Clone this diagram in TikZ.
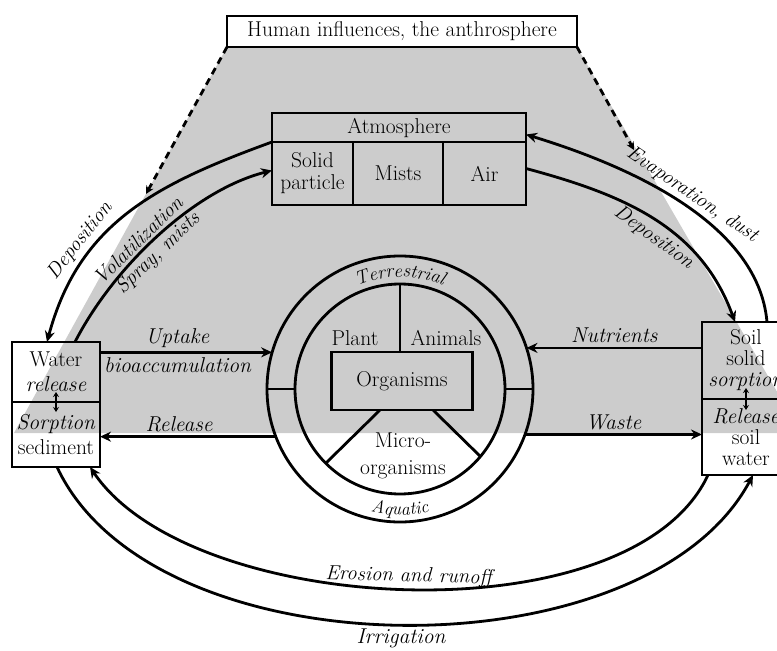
\documentclass[tikz,border=0pt]{standalone}
\usetikzlibrary{positioning}
\usetikzlibrary{arrows.meta}
\usetikzlibrary{decorations.text}

\begin{document}
\begin{tikzpicture}[x=1pt, y=1pt,
                    every node/.append style={font=\fontsize{21.5}{25}\selectfont},
                    itlabel/.style={font=\fontsize{21.5}{25}\selectfont\itshape},
                    arclabel/.style={font=\fontsize{20.5}{24}\selectfont\itshape, inner sep=2pt},
                    box/.style={rectangle, draw, outer sep=0pt, inner sep=1pt, align=center},
                    ring/.style={circle, draw, outer sep=0pt, inner sep=0pt},
                    arr/.style={-{Stealth[length=11pt, width=10pt]}},
                    twoway/.style={line width=1.6pt, {Stealth[length=5pt, width=6pt]}-{Stealth[length=5pt, width=6pt]}},
                    hint/.style={dash pattern=on 7pt off 5pt, -{Stealth[length=8pt, width=8pt]}},
                    every path/.append style={line width=2.8pt}]
    \useasboundingbox (0,0) rectangle (777,-651);

    % Gray field below the anthrosphere
    \fill[black!20] (227,-47) -- (14,-433) -- (801,-433) -- (577,-47) -- cycle;

    \node [box, fill=white, minimum width=350pt, minimum height=31pt] (human) at (402,-31.5) {Human influences, the anthrosphere};

    % Atmosphere table
    \node [box, minimum width=254pt, minimum height=29pt] (atmos) at (399,-127.5) {Atmosphere};
    \node [box, anchor=north west, minimum width=81pt, minimum height=63pt] (solid) at (atmos.south west) {Solid\\[-3pt]particle};
    \node [box, anchor=north west, minimum width=90pt, minimum height=63pt] (mists) at (solid.north east) {Mists};
    \node [box, anchor=north west, minimum width=83pt, minimum height=63pt] (air) at (mists.north east) {Air};

    % Organisms in the middle
    \node [ring, minimum size=266pt] (outer) at (400,-389) {};
    \node [ring, minimum size=210pt] (inner) at (outer.center) {};
    \node [box, minimum width=141pt, minimum height=58pt] (org) at (402,-381) {Organisms};
    \node (plant) at (355,-338) {Plant};
    \node (animals) at (446,-338) {Animals};
    \node [align=center] (micro) at (403,-456) {Micro-\\[2pt]organisms};

    % Water and soil boxes
    \node [box, minimum width=88pt, minimum height=60pt] (waterup) at (56,-372) {Water\\\textit{release}};
    \node [box, minimum width=88pt, minimum height=65pt, below=0pt of waterup] (waterlow) {\textit{Sorption}\\sediment};
    \node [box, minimum width=88pt, minimum height=77pt] (soilup) at (746,-360.5) {Soil\\[-4pt]solid\\[-4pt]\textit{sorption}};
    \node [box, minimum width=88pt, minimum height=76pt, below=0pt of soilup] (soillow) {\textit{Release}\\[-4pt]soil\\[-4pt]water};

    % Dashed hints from the anthrosphere
    \coordinate (hleft) at (146,-194);
    \coordinate (hright) at (634,-150);
    \draw [hint] (human.south west) -- (hleft);
    \draw [hint] (human.south east) -- (hright);

    % Draw the spokes of the rings
    \draw (outer.180) -- (inner.180);
    \draw (outer.0) -- (inner.0);
    \draw (inner.90) -- (inner.90 |- org.north);
    \draw ([xshift=-22pt]org.south) -- (inner.225);
    \draw ([xshift=31pt]org.south) -- (inner.-40);

    % Ring labels
    \path [decorate, decoration={text along path, text align=center,
           text={|\fontsize{19}{19}\selectfont\itshape|Terrestrial}}]
        (outer.center) ++(140:112) arc[start angle=140, end angle=40, radius=112];
    \path [decorate, decoration={text along path, text align=center,
           text={|\fontsize{18}{18}\selectfont\itshape|Aquatic}}]
        (outer.center) ++(240:126) arc[start angle=240, end angle=300, radius=126];

    % Exchange inside the boxes
    \draw [twoway] ([yshift=10pt]waterup.south) -- ([yshift=-10pt]waterlow.north);
    \draw [twoway] ([yshift=11pt]soilup.south) -- ([yshift=-11pt]soillow.north);

    % Draw the straight arrows
    \draw [arr] (waterup.east |- outer.164) -- node [itlabel, above, pos=0.45] (uptake) {Uptake}
                                               node [itlabel, below, pos=0.45] (bioacc) {bioaccumulation} (outer.164);
    \draw [arr] (outer.201) -- node [itlabel, above, pos=0.55] (release) {Release} (waterlow.east |- outer.201);
    \draw [arr] (soilup.west |- outer.18) -- node [itlabel, above] (nutrients) {Nutrients} (outer.18);
    \draw [arr] (outer.-20) -- node [itlabel, above] (waste) {Waste} (soillow.west |- outer.-20);

    % Draw the upper arcs
    \draw [arr] (atmos.south west) to[out=200, in=75, looseness=1.05]
        node [arclabel, inner sep=4pt, pos=0.68, sloped, above] (depleft) {Deposition} ([xshift=-9pt]waterup.north);
    \draw [arr] ([xshift=19pt]waterup.north) to[out=63, in=194, looseness=0.8]
        node [arclabel, pos=0.44, sloped, above] (volat) {Volatilization}
        node [arclabel, pos=0.46, sloped, below] (spray) {Spray, mists} ([yshift=3pt]solid.west);
    \draw [arr] ([xshift=21pt]soilup.north) to[out=95, in=-17, looseness=0.85]
        node [arclabel, pos=0.48, sloped, above] (evap) {Evaporation, dust} ([yshift=-7pt]atmos.east);
    \draw [arr] ([yshift=5pt]air.east) to[out=-15, in=110]
        node [arclabel, inner sep=5pt, pos=0.54, sloped, below] (depright) {Deposition} ([xshift=-11pt]soilup.north);

    % Draw the lower arcs
    \draw [arr] ([xshift=-38pt]soillow.south) to[out=245, in=-56, looseness=0.75]
        node [arclabel, pos=0.5, sloped, above] (erosion) {Erosion and runoff} ([xshift=34pt]waterlow.south);
    \draw [arr] ([xshift=1pt]waterlow.south) to[out=-65, in=242, looseness=0.84]
        node [itlabel, inner sep=3pt, pos=0.5, below] (irrig) {Irrigation} ([xshift=7pt]soillow.south);
\end{tikzpicture}
\end{document}
